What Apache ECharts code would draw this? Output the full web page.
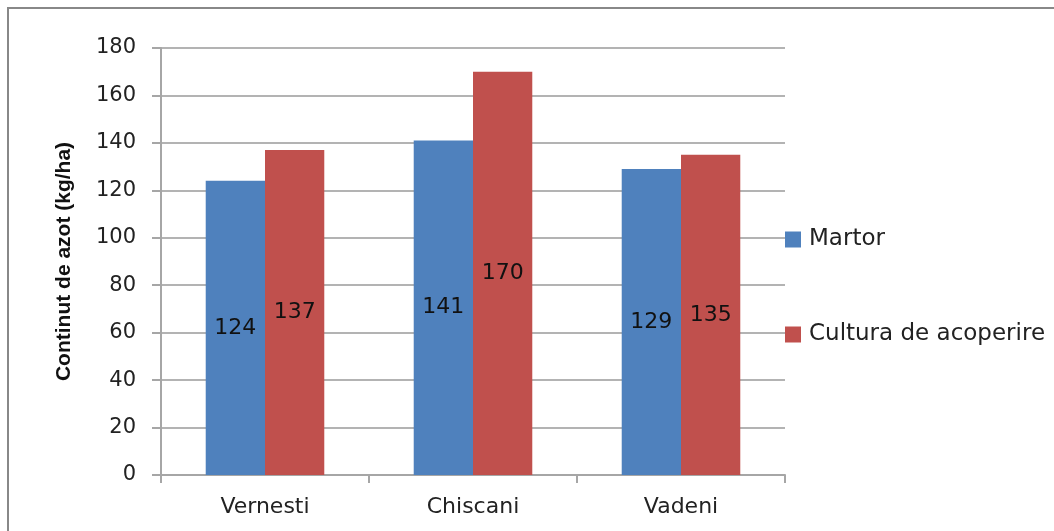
<!DOCTYPE html>
<html><head><meta charset="utf-8">
<script src="https://cdn.jsdelivr.net/npm/echarts@6/dist/echarts.min.js"></script>
<style>html,body{margin:0;padding:0;background:#fff}#c{width:1054px;height:531px}</style>
</head><body><div id="c"></div>
<script>
const categories = ['Vernesti', 'Chiscani', 'Vadeni'];
const seriesNames = ['Martor', 'Cultura de acoperire'];
const martor = [124, 141, 129];
const cultura = [137, 170, 135];
const yTicks = [0, 20, 40, 60, 80, 100, 120, 140, 160, 180];
const yTitle = 'Continut de azot (kg/ha)';

const chart = echarts.init(document.getElementById('c'), null, {renderer: 'canvas'});
const labelStyle = {show: true, position: 'inside', color: '#111', fontFamily: 'DejaVu Sans', fontSize: 22};
chart.setOption({
  animation: false,
  backgroundColor: '#fff',
  graphic: [{type: 'rect', shape: {x: 8, y: 8, width: 1070, height: 540}, style: {fill: 'none', stroke: '#888', lineWidth: 2}, z: -1}],
  grid: {left: 161, top: 48, width: 624, height: 427, containLabel: false},
  legend: {
    orient: 'vertical', left: 785, top: 228, padding: 0, itemWidth: 16, itemHeight: 16, itemGap: 72,
    icon: 'rect', textStyle: {fontFamily: 'DejaVu Sans', fontSize: 23, color: '#222', padding: [0, 0, 0, 3]},
    data: seriesNames
  },
  xAxis: {
    type: 'category', data: categories,
    axisLine: {lineStyle: {color: '#a6a6a6', width: 2}},
    axisTick: {show: true, length: 8, lineStyle: {color: '#a6a6a6', width: 2}},
    axisLabel: {fontFamily: 'DejaVu Sans', fontSize: 22, color: '#222', margin: 21}
  },
  yAxis: {
    type: 'value', min: yTicks[0], max: yTicks[yTicks.length - 1], interval: 20,
    name: yTitle, nameLocation: 'middle', nameGap: 86,
    nameTextStyle: {fontFamily: 'Liberation Sans', fontWeight: 'bold', fontSize: 21, color: '#111'},
    axisLine: {show: true, lineStyle: {color: '#a6a6a6', width: 2}},
    axisTick: {show: true, length: 9, lineStyle: {color: '#a6a6a6', width: 2}},
    axisLabel: {fontFamily: 'DejaVu Sans', fontSize: 21, color: '#222', margin: 25},
    splitLine: {lineStyle: {color: '#b3b3b3', width: 2}}
  },
  series: [
    {name: seriesNames[0], type: 'bar', data: martor, barGap: '0%', barCategoryGap: '43%', itemStyle: {color: '#4F81BD'}, label: labelStyle},
    {name: seriesNames[1], type: 'bar', data: cultura, barGap: '0%', barCategoryGap: '43%', itemStyle: {color: '#C0504D'}, label: labelStyle}
  ]
});
</script></body></html>
